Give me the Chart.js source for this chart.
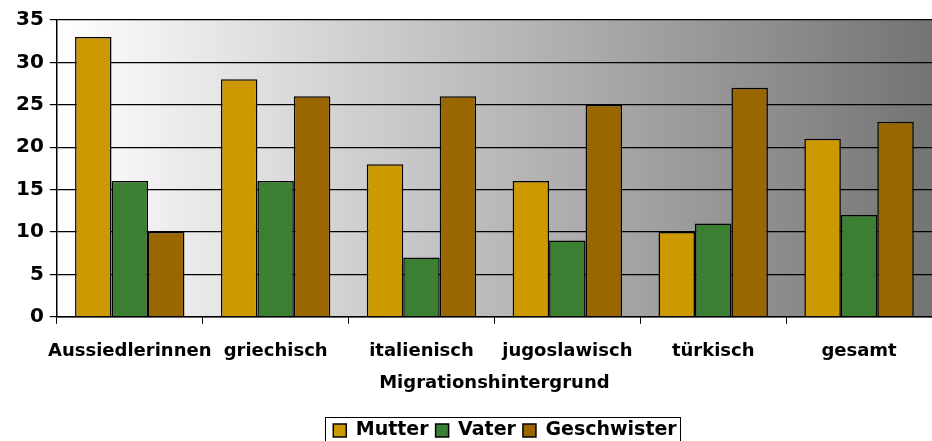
<!DOCTYPE html>
<html><head><meta charset="utf-8">
<script src="https://cdn.jsdelivr.net/npm/chart.js@4"></script>
<style>html,body{margin:0;padding:0;background:#fff;}#w{width:932px;height:441px;}</style>
</head><body><div id="w"><canvas id="c"></canvas></div>
<script>
const categories = ["Aussiedlerinnen", "griechisch", "italienisch", "jugoslawisch", "türkisch", "gesamt"];
const mutter = [33, 28, 18, 16, 10, 21];
const vater = [16, 16, 7, 9, 11, 12];
const geschwister = [10, 26, 26, 25, 27, 23];
const seriesNames = ["Mutter", "Vater", "Geschwister"];
const xTitle = "Migrationshintergrund";

const FONT = "'DejaVu Sans', Verdana, sans-serif";

const bgPlugin = {
  id: 'bg',
  beforeDraw(chart) {
    const a = chart.chartArea, ctx = chart.ctx;
    const g = ctx.createLinearGradient(a.left, 0, a.right, 0);
    g.addColorStop(0, '#ffffff');
    g.addColorStop(1, '#747474');
    ctx.save(); ctx.fillStyle = g; ctx.fillRect(a.left, a.top, a.right - a.left, a.bottom - a.top); ctx.restore();
  }
};
const legendShift = {
  id: 'legendShift',
  afterLayout(chart) {
    const l = chart.legend; if (!l) return;
    const dx = 34, dy = 9;
    l.left += dx; l.right += dx; l.top += dy; l.bottom += dy;
  },
  afterDraw(chart) {
    const l = chart.legend; if (!l || !l.legendHitBoxes || !l.legendHitBoxes.length) return;
    const hb = l.legendHitBoxes;
    const x0 = Math.min(...hb.map(h => h.left)), x1 = Math.max(...hb.map(h => h.left + h.width));
    const cy = hb[0].top + hb[0].height / 2;
    const ctx = chart.ctx; ctx.save(); ctx.strokeStyle = '#000'; ctx.lineWidth = 1;
    ctx.strokeRect(Math.round(x0 - 8) + 0.5, Math.round(cy - 14) + 0.5, Math.round(x1 - x0 + 12), 30);
    ctx.restore();
  }
};

const mk = (label, data, color) => ({ label, data, backgroundColor: color, borderColor: '#000', borderWidth: 1.5, borderSkipped: 'start', categoryPercentage: 0.75, barPercentage: 1.0 });

new Chart(document.getElementById('c'), {
  type: 'bar',
  data: {
    labels: categories,
    datasets: [mk(seriesNames[0], mutter, '#CC9900'), mk(seriesNames[1], vater, '#3A7F32'), mk(seriesNames[2], geschwister, '#996600')]
  },
  options: {
    responsive: true, maintainAspectRatio: false, animation: false,
    layout: { padding: { top: 20, right: 0, left: 10, bottom: 0 } },
    plugins: {
      tooltip: { enabled: false },
      legend: {
        position: 'bottom',
        labels: { color: '#000', font: { family: FONT, size: 19, weight: 'bold' }, boxWidth: 13, boxHeight: 13, padding: 7 }
      }
    },
    scales: {
      x: {
        offset: true,
        grid: { display: true, drawOnChartArea: false, color: '#000', tickLength: 7, offset: true, lineWidth: 1 },
        border: { color: '#000', width: 1.5 },
        ticks: { color: '#000', font: { family: FONT, size: 18, weight: 'bold' }, padding: 17, maxRotation: 0, autoSkip: false },
        title: { display: true, text: xTitle, color: '#000', font: { family: FONT, size: 18, weight: 'bold' }, padding: { top: -7, bottom: 11 } }
      },
      y: {
        min: 0, max: 35,
        grid: { color: '#000', lineWidth: 1.2, tickLength: 7 },
        border: { color: '#000', width: 1.5 },
        ticks: { stepSize: 5, color: '#000', font: { family: FONT, size: 20, weight: 'bold' }, padding: 6 }
      }
    }
  },
  plugins: [bgPlugin, legendShift]
});
</script></body></html>
